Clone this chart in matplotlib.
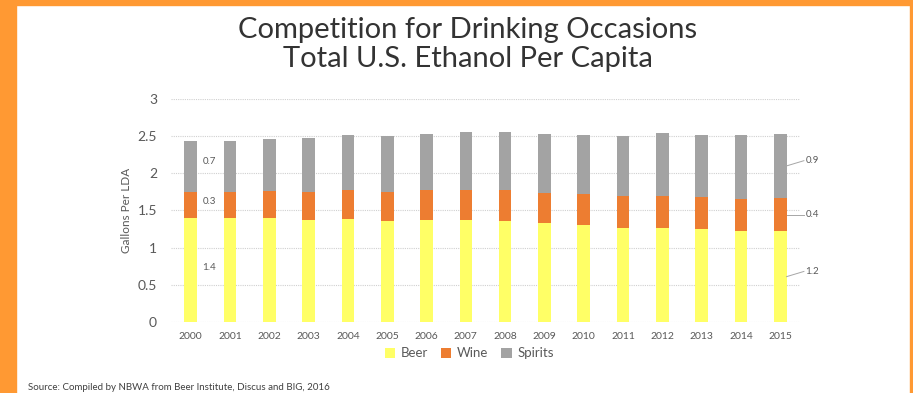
import matplotlib.pyplot as plt
from matplotlib.patches import Rectangle
import numpy as np

years = [str(y) for y in range(2000, 2016)]
beer = [1.40, 1.40, 1.40, 1.37, 1.38, 1.36, 1.37, 1.37, 1.36, 1.33, 1.30, 1.27, 1.27, 1.25, 1.23, 1.22]
wine = [0.35, 0.35, 0.36, 0.38, 0.39, 0.39, 0.40, 0.41, 0.41, 0.41, 0.42, 0.42, 0.43, 0.43, 0.43, 0.45]
spirits = [0.69, 0.68, 0.70, 0.72, 0.74, 0.75, 0.76, 0.77, 0.78, 0.79, 0.79, 0.81, 0.84, 0.84, 0.85, 0.86]
left_labels = ['1.4', '0.3', '0.7']
right_labels = ['1.2', '0.4', '0.9']

plt.rcParams['font.family'] = ['Lato', 'DejaVu Sans']
txt = '#595959'

fig = plt.figure(figsize=(9.13, 3.93), dpi=100)
ax = fig.add_axes([0.1873, 0.1807, 0.6889, 0.5674])

x = np.arange(len(years))
beer_a, wine_a, sp_a = np.array(beer), np.array(wine), np.array(spirits)
w = 0.32
ax.bar(x, beer_a, w, color='#FFFF66', label='Beer', zorder=3)
ax.bar(x, wine_a, w, bottom=beer_a, color='#ED7D31', label='Wine', zorder=3)
ax.bar(x, sp_a, w, bottom=beer_a + wine_a, color='#A3A3A3', label='Spirits', zorder=3)

ax.set_xlim(-0.5, 15.5)
ax.set_ylim(0, 3)
ax.set_yticks([0, 0.5, 1, 1.5, 2, 2.5, 3])
ax.set_yticklabels(['0', '0.5', '1', '1.5', '2', '2.5', '3'])
ax.set_xticks(x)
ax.set_xticklabels(years)
ax.tick_params(axis='y', length=0, pad=10, labelsize=10, labelcolor=txt)
ax.tick_params(axis='x', length=0, pad=7, labelsize=7.5, labelcolor=txt)
ax.grid(axis='y', color='#D0D0D0', linestyle=(0, (1, 1)), linewidth=0.8, zorder=0)
for s in ax.spines.values():
    s.set_visible(False)
ax.set_ylabel('Gallons Per LDA', fontsize=8.5, color=txt, labelpad=4)

# data labels next to first bar
mids0 = [beer_a[0] / 2 + 0.03, beer_a[0] + wine_a[0] / 2 + 0.05, beer_a[0] + wine_a[0] + sp_a[0] / 2 + 0.07]
for lab, yv in zip(left_labels, mids0):
    ax.text(0.48, yv, lab, fontsize=7, color=txt, va='center', ha='center')

# leader-line labels right of last bar
i = len(years) - 1
mids = [beer_a[i] / 2, beer_a[i] + wine_a[i] / 2, beer_a[i] + wine_a[i] + sp_a[i] / 2]
offs = [0.07, 0.0, 0.07]
for lab, yv, o in zip(right_labels, mids, offs):
    ax.plot([i + w / 2, i + 0.6], [yv, yv + o], color='#A6A6A6', lw=0.7,
            clip_on=False, zorder=4)
    ax.text(i + 0.64, yv + o, lab, fontsize=7, color=txt, va='center', ha='left')

leg = ax.legend(loc='upper center', bbox_to_anchor=(0.474, -0.06), ncol=3, frameon=False,
                fontsize=9.5, handlelength=0.8, handleheight=0.8, handletextpad=0.4,
                columnspacing=1.0, labelcolor=txt)

fig.text(0.512, 0.924, 'Competition for Drinking Occasions', ha='center', va='center',
         fontsize=21, color='#333333')
fig.text(0.512, 0.851, 'Total U.S. Ethanol Per Capita', ha='center', va='center',
         fontsize=21, color='#333333')
fig.text(0.031, 0.015, 'Source: Compiled by NBWA from Beer Institute, Discus and BIG, 2016',
         fontsize=7, color='#404040', va='center')

# orange frame
orange = '#FF9933'
fig.patches.append(Rectangle((0, 0), 16 / 913, 1, transform=fig.transFigure, color=orange, zorder=10))
fig.patches.append(Rectangle((0, 1 - 5 / 393), 1, 5 / 393, transform=fig.transFigure, color=orange, zorder=10))
fig.patches.append(Rectangle((910 / 913, 0), 3 / 913, 1, transform=fig.transFigure, color=orange, zorder=10))

fig.savefig('out.png', dpi=100)
